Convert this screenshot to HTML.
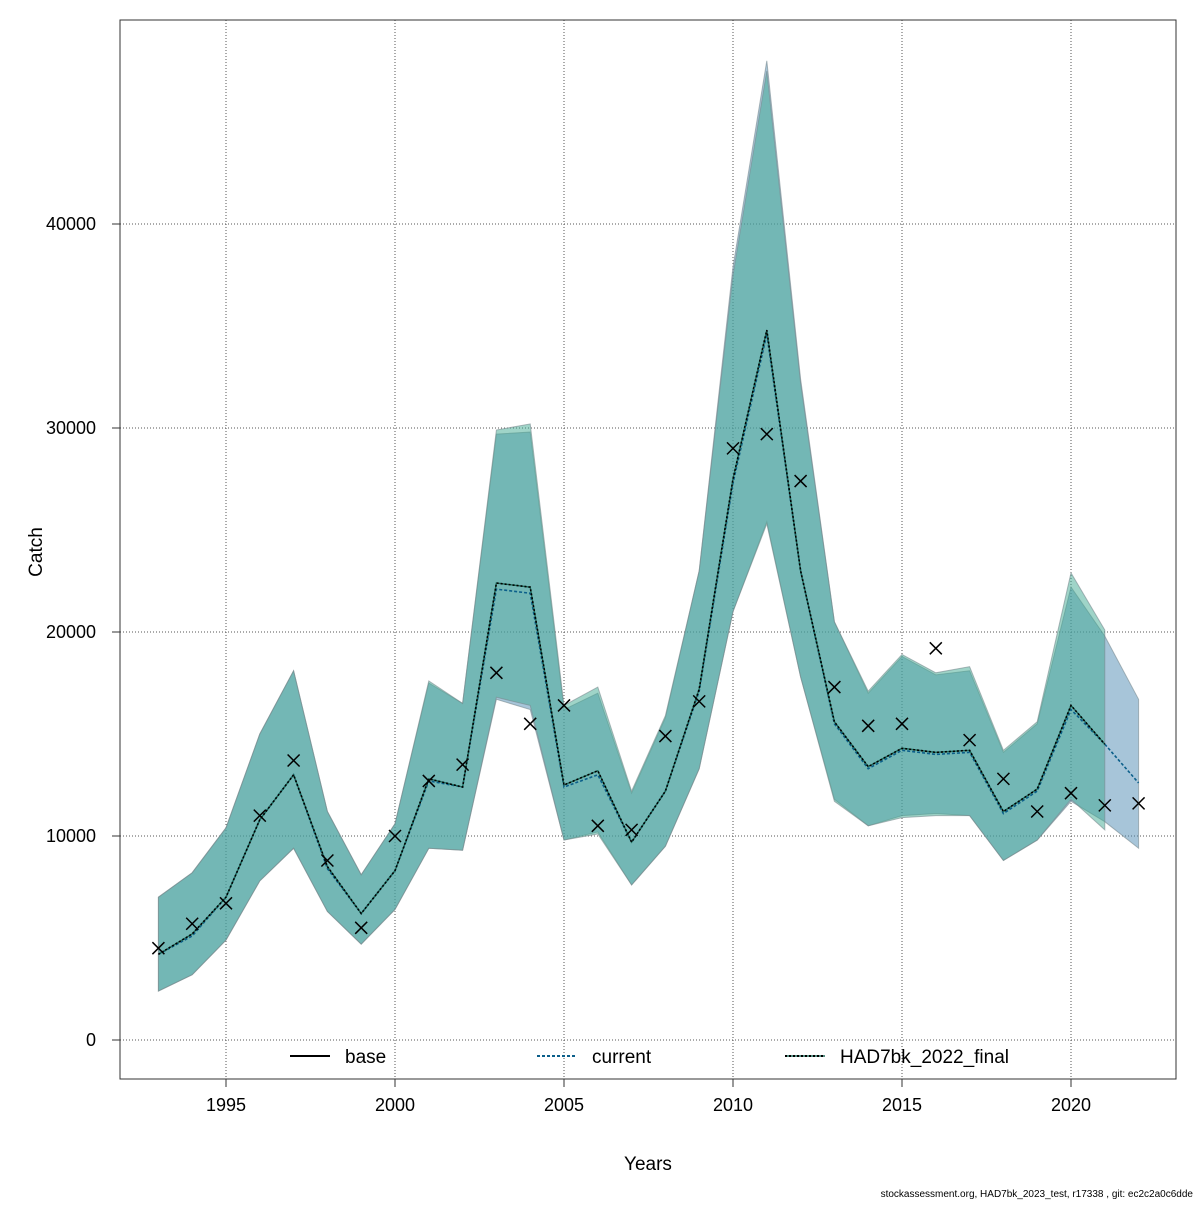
<!DOCTYPE html>
<html><head><meta charset="utf-8"><style>
body{margin:0;background:#fff;}
svg text{font-family:"Liberation Sans",sans-serif;}
</style></head><body>
<svg id="chart" width="1200" height="1200" xmlns="http://www.w3.org/2000/svg"></svg>
<script>
const years=[1993,1994,1995,1996,1997,1998,1999,2000,2001,2002,2003,2004,2005,2006,2007,2008,2009,2010,2011,2012,2013,2014,2015,2016,2017,2018,2019,2020,2021,2022];
const observed=[4500,5700,6700,11000,13700,8800,5500,10000,12700,13500,18000,15500,16400,10500,10300,14900,16600,29000,29700,27400,17300,15400,15500,19200,14700,12800,11200,12100,11500,11600];
const curMedian=[4200,5100,7000,10800,13000,8400,6200,8300,12700,12400,22100,21900,12400,13000,9700,12200,17100,27300,34600,23000,15500,13300,14200,14000,14100,11100,12200,16200,14500,12600];
const curUpper=[7000,8200,10400,15000,18100,11200,8100,10600,17500,16500,29700,29800,16200,17000,12100,15800,23000,37900,48000,32400,20500,17000,18800,17900,18100,14100,15500,22200,19800,16700];
const curLower=[2400,3200,4900,7800,9400,6300,4700,6400,9400,9300,16700,16200,9800,10200,7600,9500,13300,21000,25400,17800,11800,10500,11000,11100,11000,8800,9800,11700,10700,9400];
const hadYears=years.slice(0,29);
const hadMedian=[4200,5200,7000,10800,13000,8500,6200,8300,12800,12400,22400,22200,12500,13200,9700,12200,17200,27500,34800,23000,15600,13400,14300,14100,14200,11200,12300,16400,14500];
const hadUpper=[7000,8200,10400,15000,18100,11200,8100,10600,17600,16500,29900,30200,16400,17300,12200,15900,23000,37500,47500,32200,20500,17100,18900,18000,18300,14200,15600,22900,20100];
const hadLower=[2400,3200,4900,7800,9400,6300,4700,6400,9400,9300,16800,16400,9800,10100,7600,9500,13300,21000,25300,17800,11700,10500,10900,11000,11000,8800,9800,11800,10300];
const xTicks=[1995,2000,2005,2010,2015,2020];
const yTicks=[0,10000,20000,30000,40000];

const svg=document.getElementById('chart');
const NS='http://www.w3.org/2000/svg';
const L=120,R=1176,T=20,B=1079;
const xs=y=>226+(y-1995)*33.8;
const ys=v=>1040-v*0.0204;
function mk(tag,attrs,parent){const e=document.createElementNS(NS,tag);for(const k in attrs)e.setAttribute(k,attrs[k]);(parent||svg).appendChild(e);return e;}

xTicks.forEach(t=>{const g=mk('line',{x1:xs(t),x2:xs(t),y1:T,y2:B,stroke:'#555','stroke-width':1,'stroke-dasharray':'1,2'});

});
yTicks.forEach(t=>{const g=mk('line',{x1:L,x2:R,y1:ys(t),y2:ys(t),stroke:'#555','stroke-width':1,'stroke-dasharray':'1,2'});

});

function band(xv,up,lo,fill,name){
  let d='M'+xv.map((y,i)=>xs(y)+','+ys(up[i])).join('L');
  for(let i=xv.length-1;i>=0;i--)d+='L'+xs(xv[i])+','+ys(lo[i]);
  const p=mk('path',{d:d+'Z',fill:fill,stroke:'#7a8a90','stroke-width':1,'stroke-opacity':0.6});
  
  
}
band(years,curUpper,curLower,'rgba(80,140,180,0.5)','current-uncertainty-band');
band(hadYears,hadUpper,hadLower,'rgba(64,170,145,0.5)','had7bk-uncertainty-band');

function line(xv,vals,stroke,dash,w,name){
  const p=mk('polyline',{points:xv.map((y,i)=>xs(y)+','+ys(vals[i])).join(' '),fill:'none',stroke:stroke,'stroke-width':w,'stroke-dasharray':dash});
  
  
}
line(years,curMedian,'#0b5f8a','3,2',1.6,'current-line');
line(hadYears,hadMedian,'#1d6a5a','',1.4,'had7bk-line-base');
line(hadYears,hadMedian,'#000','2,2',1.6,'had7bk-line');

observed.forEach((v,i)=>{const cx=xs(years[i]),cy=ys(v),s=6;
const g=mk('path',{d:`M${cx-s},${cy-s}L${cx+s},${cy+s}M${cx-s},${cy+s}L${cx+s},${cy-s}`,stroke:'#000','stroke-width':1.5,fill:'none'});

});

const fr=mk('rect',{x:L,y:T,width:R-L,height:B-T,fill:'none',stroke:'#333','stroke-width':1});



xTicks.forEach(t=>{mk('line',{x1:xs(t),x2:xs(t),y1:B,y2:B+8,stroke:'#333'});
const tx=mk('text',{x:xs(t),y:B+32,'font-size':18,'text-anchor':'middle'});tx.textContent=t;

});
yTicks.forEach(t=>{mk('line',{x1:L,x2:L-8,y1:ys(t),y2:ys(t),stroke:'#333'});
const tx=mk('text',{x:L-24,y:ys(t)+6,'font-size':18,'text-anchor':'end'});tx.textContent=t;

});

const xt=mk('text',{x:648,y:1170,'font-size':19,'text-anchor':'middle'});xt.textContent='Years';


const yt=mk('text',{x:0,y:0,'font-size':19,'text-anchor':'middle',transform:'translate(42,552) rotate(-90)'});yt.textContent='Catch';



const leg=[['base',290,'#000',''],['current',537,'#0b5f8a','3,2'],['HAD7bk_2022_final',785,'#000','2,2']];
leg.forEach(([lab,x,c,d])=>{
  if(lab==='HAD7bk_2022_final')mk('line',{x1:x,x2:x+40,y1:1056,y2:1056,stroke:'#1d6a5a','stroke-width':1.4});
  mk('line',{x1:x,x2:x+40,y1:1056,y2:1056,stroke:c,'stroke-width':2,'stroke-dasharray':d});
  const tx=mk('text',{x:x+55,y:1063,'font-size':19});tx.textContent=lab;
  
  
});
const ft=mk('text',{x:1193,y:1197,'font-size':10,'text-anchor':'end'});ft.textContent='stockassessment.org, HAD7bk_2023_test, r17338 , git: ec2c2a0c6dde';


</script>
</body></html>
